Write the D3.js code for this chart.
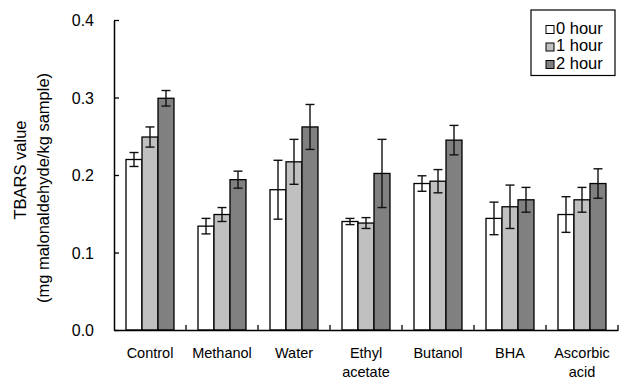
<!DOCTYPE html>
<html>
<head>
<meta charset="utf-8">
<script src="https://cdn.jsdelivr.net/npm/d3@7"></script>
<style>
  body { margin: 0; background: #fff; }
  svg { display: block; font-family: "Liberation Sans", Arial, sans-serif; }
</style>
</head>
<body>
<svg id="canvas" width="622" height="380"></svg>
<script>
// categories and series
let categories = ['Control', 'Methanol', 'Water', 'Ethyl acetate', 'Butanol', 'BHA', 'Ascorbic acid']
let labelLines = [['Control'], ['Methanol'], ['Water'], ['Ethyl', 'acetate'], ['Butanol'], ['BHA'], ['Ascorbic', 'acid']]
let seriesNames = ['0 hour', '1 hour', '2 hour']

let hour0 = [0.220, 0.134, 0.181, 0.140, 0.189, 0.144, 0.149]
let hour0Err = [0.009, 0.010, 0.038, 0.004, 0.010, 0.021, 0.023]
let hour1 = [0.249, 0.149, 0.217, 0.138, 0.192, 0.159, 0.168]
let hour1Err = [0.013, 0.009, 0.029, 0.007, 0.015, 0.028, 0.016]
let hour2 = [0.299, 0.194, 0.262, 0.202, 0.245, 0.168, 0.189]
let hour2Err = [0.010, 0.011, 0.029, 0.044, 0.019, 0.016, 0.019]

let yTicks = [0, 0.1, 0.2, 0.3, 0.4]

let fills = ['#ffffff', '#c0c0c0', '#808080']

let canvas = d3.select('#canvas')

let plotLeft = 114, plotRight = 618, plotTop = 20, plotBottom = 330

let xScale = d3.scaleBand().domain(categories).range([plotLeft, plotRight])
let subScale = d3.scaleBand().domain(seriesNames).range([12, 60])
let yScale = d3.scaleLinear().domain([0, 0.4]).range([plotBottom, plotTop])

let values = [hour0, hour1, hour2]
let errs = [hour0Err, hour1Err, hour2Err]

let rows = []
categories.forEach((c, i) => {
    seriesNames.forEach((s, j) => {
        rows.push({cat: c, series: s, idx: j, value: values[j][i], err: errs[j][i]})
    })
})

// bars
canvas.append('g').selectAll('rect')
    .data(rows)
    .enter()
    .append('rect')
    .attr('x', d => xScale(d.cat) + subScale(d.series))
    .attr('y', d => yScale(d.value))
    .attr('width', subScale.bandwidth())
    .attr('height', d => yScale(0) - yScale(d.value))
    .attr('fill', d => fills[d.idx])
    .attr('stroke', '#000')
    .attr('stroke-width', 1.3)

// error bars
let errG = canvas.append('g').attr('stroke', '#111').attr('stroke-width', 1.4)
let cap = 4.5
rows.forEach(d => {
    let cx = xScale(d.cat) + subScale(d.series) + subScale.bandwidth() / 2
    let y1 = yScale(d.value + d.err), y2 = yScale(d.value - d.err)
    errG.append('line').attr('x1', cx).attr('x2', cx).attr('y1', y1).attr('y2', y2)
    errG.append('line').attr('x1', cx - cap).attr('x2', cx + cap).attr('y1', y1).attr('y2', y1)
    errG.append('line').attr('x1', cx - cap).attr('x2', cx + cap).attr('y1', y2).attr('y2', y2)
})

// y axis
let yAxis = d3.axisLeft(yScale)
    .tickValues(yTicks)
    .tickFormat(d3.format('.1f'))
    .tickSizeInner(-5)
    .tickSizeOuter(0)
    .tickPadding(20)

let yG = canvas.append('g')
    .attr('transform', 'translate(' + plotLeft + ',0)')
    .call(yAxis)
yG.select('.domain').attr('stroke', '#000').attr('stroke-width', 1.5)
yG.selectAll('.tick line').attr('stroke', '#000').attr('stroke-width', 1.3)
yG.selectAll('.tick text')
    .attr('font-size', 16)
    .attr('font-family', '"Liberation Sans", Arial, sans-serif')
    .attr('fill', '#000')
    .attr('dy', '0.36em')

// x axis line and ticks at category boundaries
let xAxis = d3.axisBottom(xScale).tickSize(0).tickFormat('')
let xG = canvas.append('g')
    .attr('transform', 'translate(0,' + plotBottom + ')')
    .call(xAxis)
xG.select('.domain').attr('stroke', '#000').attr('stroke-width', 1.5)
xG.selectAll('.tick').remove()

let boundaries = categories.slice(1).map(c => xScale(c)).concat([plotRight])
xG.selectAll('line.bound')
    .data(boundaries)
    .enter()
    .append('line')
    .attr('class', 'bound')
    .attr('x1', d => d).attr('x2', d => d)
    .attr('y1', 0).attr('y2', -5)
    .attr('stroke', '#000')
    .attr('stroke-width', 1.3)

// category labels
let labels = canvas.append('g')
    .attr('font-size', 14.5)
    .attr('text-anchor', 'middle')
    .attr('fill', '#000')
labelLines.forEach((lines, i) => {
    let t = labels.append('text')
        .attr('x', xScale(categories[i]) + xScale.bandwidth() / 2)
        .attr('y', 358)
    lines.forEach((ln, k) => {
        t.append('tspan')
            .attr('x', xScale(categories[i]) + xScale.bandwidth() / 2)
            .attr('dy', k === 0 ? 0 : 19)
            .text(ln)
    })
})

// y title
canvas.append('text')
    .attr('transform', 'translate(26,170) rotate(-90)')
    .attr('text-anchor', 'middle')
    .attr('font-size', 16.5)
    .text('TBARS value')
canvas.append('text')
    .attr('transform', 'translate(49,188) rotate(-90)')
    .attr('text-anchor', 'middle')
    .attr('font-size', 16.5)
    .text('(mg malonaldehyde/kg sample)')

// legend
let legend = canvas.append('g')
legend.append('rect')
    .attr('x', 531).attr('y', 10)
    .attr('width', 84).attr('height', 65.5)
    .attr('fill', '#fff')
    .attr('stroke', '#000')
    .attr('stroke-width', 1.2)
let items = legend.selectAll('g.item')
    .data(seriesNames)
    .enter()
    .append('g')
    .attr('class', 'item')
    .attr('transform', (d, i) => 'translate(546,' + (33.5 + i * 17.5) + ')')
items.append('rect')
    .attr('x', 0).attr('y', -8)
    .attr('width', 8).attr('height', 8)
    .attr('fill', (d, i) => fills[i])
    .attr('stroke', '#000')
    .attr('stroke-width', 1)
items.append('text')
    .attr('x', 10)
    .attr('y', 0)
    .attr('font-size', 16.5)
    .text(d => d)
</script>
</body>
</html>
